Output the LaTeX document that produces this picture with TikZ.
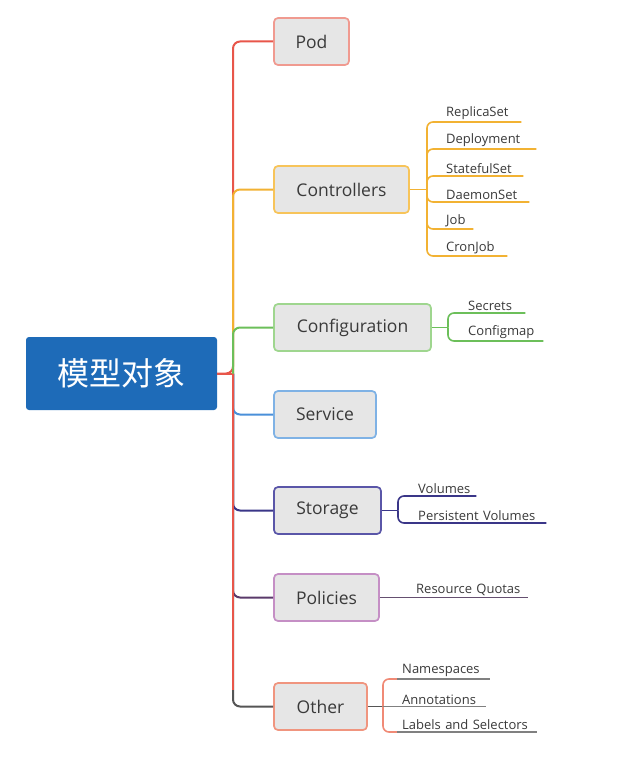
\documentclass[tikz,border=0pt]{standalone}
\usepackage{fontspec}
\setmainfont{Open Sans}
\newfontfamily\cjk{Noto Sans CJK SC}
\definecolor{podL}{HTML}{E8564A}
\definecolor{podB}{HTML}{F09A90}
\definecolor{ctlL}{HTML}{F2B233}
\definecolor{ctlB}{HTML}{F7C45A}
\definecolor{cfgL}{HTML}{6CBF5A}
\definecolor{cfgB}{HTML}{9FD68F}
\definecolor{svcL}{HTML}{4A90D9}
\definecolor{svcB}{HTML}{7FB2E5}
\definecolor{stoL}{HTML}{3A3688}
\definecolor{stoB}{HTML}{5A56A8}
\definecolor{polL}{HTML}{5A3A6A}
\definecolor{polB}{HTML}{C58FC5}
\definecolor{othL}{HTML}{555555}
\definecolor{othB}{HTML}{F0957F}
\definecolor{othC}{HTML}{F08A76}
\definecolor{mainF}{HTML}{1E6BB8}
\definecolor{boxF}{HTML}{E6E6E6}
\definecolor{txt}{HTML}{3A3A3A}
\tikzset{
  topic/.style={draw, line width=1.7pt, fill=boxF, rounded corners=4pt, text=txt,
    font=\fontsize{17.5}{20}\selectfont, inner sep=0pt, minimum height=47pt},
  leaf/.style={anchor=south west, inner xsep=5pt, inner ysep=1.8pt, align=left,
    text=txt, font=\fontsize{13}{15}\selectfont},
  conn/.style={line width=2pt, rounded corners=7pt},
  sub/.style={line width=1.6pt, rounded corners=6pt},
}
\begin{document}
\begin{tikzpicture}[x=1pt,y=-1pt]
\useasboundingbox (0,0) rectangle (622,757);
\fill[white] (0,0) rectangle (622,757);

% main node
\node[fill=mainF, rounded corners=3pt, minimum width=191pt, minimum height=73pt, inner sep=0pt,
  text=white, font=\cjk\fontsize{32}{36}\selectfont] (main) at (121.5,373.5) {模型对象};

% topics
\node[topic, draw=podB, minimum width=75pt] (pod) at (311.5,41.5) {Pod};
\node[topic, draw=ctlB, minimum width=135pt] (ctl) at (341.5,189.5) {Controllers};
\node[topic, draw=cfgB, minimum width=157pt] (cfg) at (352.5,327.5) {Configuration};
\node[topic, draw=svcB, minimum width=102pt] (svc) at (325,414.5) {Service};
\node[topic, draw=stoB, minimum width=107pt] (sto) at (327.5,510.5) {Storage};
\node[topic, draw=polB, minimum width=105pt] (pol) at (326.5,597.5) {Policies};
\node[topic, draw=othB, minimum width=93pt] (oth) at (320.5,706.5) {Other};

% trunk coordinates
\coordinate (tc) at (233,373.5);
\coordinate (tb) at (233,700);

% lower trunk (red)
\draw[line width=2pt, podL] (main.east) -- (tc) -- (tb);
% lower branches
\draw[conn, othL] (tc) |- (oth.west);
\draw[conn, polL] (tc) |- (pol.west);
\draw[conn, stoL] (tc) |- (sto.west);
\draw[conn, svcL] (tc) |- (svc.west);
\draw[line width=2pt, podL] (tc) -- (233,690);
% upper branches
\draw[conn, podL] (main.east) -- (tc) |- (pod.west);
\draw[conn, ctlL] (tc) |- (ctl.west);
\draw[conn, cfgL] (tc) |- (cfg.west);

% controllers leaves
\coordinate (cj) at (427,189.5);
\node[leaf, text width=70pt] (l1) at (441,122) {ReplicaSet};
\node[leaf, text width=85pt] (l2) at (441,149) {Deployment};
\node[leaf, text width=72pt] (l3) at (441,176) {StatefulSet};
\node[leaf, text width=78pt] (l4) at (441,202) {DaemonSet};
\node[leaf, text width=22pt] (l5) at (441,229) {Job};
\node[leaf, text width=56pt] (l6) at (441,256) {CronJob};
\draw[sub, ctlL] (ctl.east) -- (cj);
\foreach \n in {l1,l2,l3,l4,l5,l6}
  \draw[sub, ctlL] (cj) |- (\n.south west) -- (\n.south east);

% configuration leaves
\coordinate (gj) at (448,327.5);
\node[leaf, text width=52pt] (g1) at (463,313) {Secrets};
\node[leaf, text width=70pt] (g2) at (463,341) {Configmap};
\draw[sub, cfgL] (cfg.east) -- (gj);
\foreach \n in {g1,g2}
  \draw[sub, cfgL] (gj) |- (\n.south west) -- (\n.south east);

% storage leaves
\coordinate (sj) at (398,510.5);
\node[leaf, text width=53pt] (s1) at (413,496) {Volumes};
\node[leaf, text width=123pt] (s2) at (413,523) {Persistent Volumes};
\draw[sub, stoL] (sto.east) -- (sj);
\foreach \n in {s1,s2}
  \draw[sub, stoL] (sj) |- (\n.south west) -- (\n.south east);

% policies leaf
\node[leaf, text width=107pt] (p1) at (411,597.5) {Resource Quotas};
\draw[sub, polL!70!gray] (pol.east) -- (p1.south west) -- (p1.south east);

% other leaves
\coordinate (oj) at (383,706.5);
\node[leaf, text width=83pt] (o1) at (397,679) {Namespaces};
\node[leaf, text width=79pt] (o2) at (397,706.5) {Annotations};
\node[leaf, text width=130pt] (o3) at (397,732) {Labels and Selectors};
\draw[sub, othL] (oth.east) -- (oj);
\foreach \n in {o1,o3}
  \draw[sub, othC] (oj) |- (\n.south west);
\foreach \n in {o1,o2,o3}
  \draw[sub, gray] (\n.south west) -- (\n.south east);
\draw[sub, gray] (oj) -- (o2.south west);
\end{tikzpicture}
\end{document}
